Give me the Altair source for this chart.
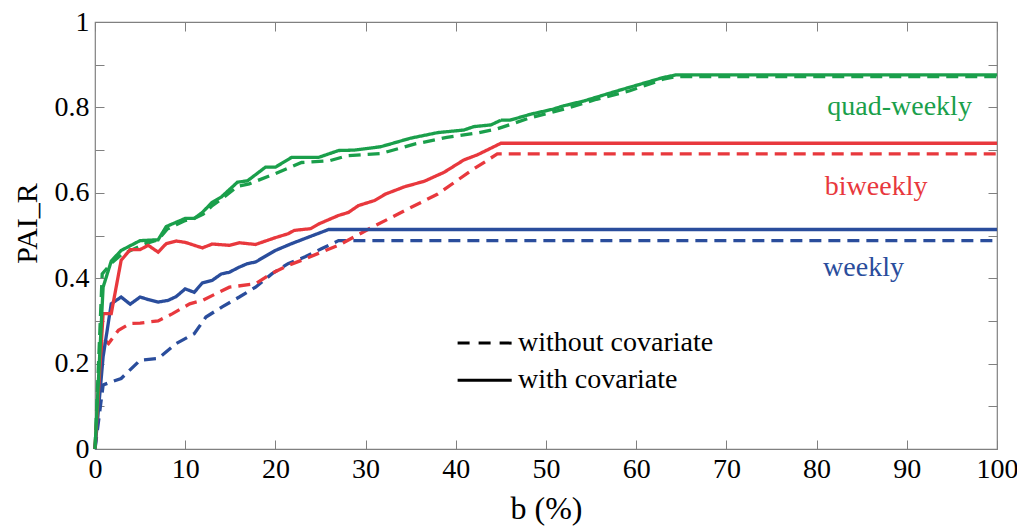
import altair as alt
import pandas as pd

# ---- data ----
gs_b = [0, 0.9, 1.8, 2.9, 5, 7, 7.9, 9, 10, 11, 11.9, 13, 14, 15.8, 16.9, 18.9, 20, 21.8, 24.8, 27, 28.8, 31.7, 35, 38, 40.9, 42, 43.9, 45, 46, 48.3, 50.8, 52, 54.2, 56.7, 58.6, 60.4, 63, 64.4, 100]
gs_v = [0, 0.379, 0.44, 0.465, 0.488, 0.49, 0.521, 0.531, 0.54, 0.54, 0.554, 0.578, 0.59, 0.625, 0.628, 0.66, 0.66, 0.683, 0.683, 0.699, 0.70, 0.708, 0.728, 0.741, 0.747, 0.755, 0.759, 0.770, 0.77, 0.784, 0.796, 0.804, 0.815, 0.831, 0.843, 0.854, 0.870, 0.876, 0.876]

gd_b = [0, 0.8, 1.8, 2.9, 5.5, 7, 8, 9, 10, 11, 12, 13, 14, 15.8, 17.1, 20, 22.9, 26, 28, 31.7, 35.4, 39, 42.6, 44.5, 48.3, 52, 55.6, 59.3, 63, 64.4, 100]
gd_v = [0, 0.41, 0.435, 0.455, 0.48, 0.49, 0.515, 0.525, 0.535, 0.54, 0.55, 0.57, 0.585, 0.615, 0.621, 0.645, 0.671, 0.675, 0.687, 0.692, 0.714, 0.73, 0.741, 0.749, 0.776, 0.796, 0.819, 0.839, 0.866, 0.872, 0.872]

rs_b = [0, 0.9, 1.8, 2.9, 3.9, 5, 5.9, 7, 7.9, 9, 10, 11.9, 13, 14.9, 16, 17.8, 20, 21.4, 22.1, 23.9, 24.8, 27, 28.1, 29.2, 31, 32.2, 34.3, 36.5, 38.7, 40.9, 42.4, 45, 100]
rs_v = [0, 0.317, 0.317, 0.442, 0.467, 0.467, 0.477, 0.461, 0.481, 0.487, 0.484, 0.471, 0.48, 0.477, 0.483, 0.479, 0.495, 0.504, 0.512, 0.516, 0.527, 0.547, 0.554, 0.57, 0.582, 0.597, 0.614, 0.627, 0.648, 0.677, 0.689, 0.716, 0.716]

rd_b = [0, 0.8, 1.5, 2.6, 3.9, 5, 7, 8.6, 10.5, 11.9, 14.9, 17.8, 19.5, 21.4, 22.9, 25.1, 27, 30.7, 34.3, 38, 41.7, 44.6, 100]
rd_v = [0, 0.26, 0.247, 0.278, 0.294, 0.295, 0.30, 0.317, 0.34, 0.348, 0.379, 0.387, 0.41, 0.43, 0.442, 0.461, 0.477, 0.519, 0.558, 0.597, 0.652, 0.691, 0.691]

bs_b = [0, 0.9, 1.8, 2.9, 3.9, 5, 5.9, 7, 8.1, 9, 10, 11, 11.9, 13, 14, 14.9, 16, 16.9, 17.8, 20, 21.8, 23.9, 25.9, 100]
bs_v = [0, 0.216, 0.34, 0.356, 0.339, 0.356, 0.35, 0.344, 0.348, 0.357, 0.375, 0.367, 0.389, 0.395, 0.41, 0.414, 0.426, 0.434, 0.438, 0.465, 0.481, 0.498, 0.514, 0.514]

bd_b = [0, 0.9, 1.8, 2.9, 5, 7, 9, 11, 12.3, 14.1, 16, 17.8, 19.6, 21.4, 23.3, 25.1, 27, 100]
bd_v = [0, 0.15, 0.157, 0.165, 0.208, 0.212, 0.247, 0.27, 0.309, 0.333, 0.356, 0.379, 0.41, 0.434, 0.45, 0.469, 0.488, 0.488]

series_names = ["weekly", "biweekly", "quad-weekly"]
series_colors = ["#2a4d9c", "#e8383d", "#1a9f4b"]

label_text = ["quad-weekly", "biweekly", "weekly"]
label_b = [89.2, 86.6, 85.2]
label_v = [0.800, 0.613, 0.423]

legend_text = ["without covariate", "with covariate"]
legend_kind = ["without", "with"]
legend_b = [40.2, 40.2]
legend_b2 = [46.2, 46.2]
legend_v = [0.248, 0.161]
legend_tb = [46.9, 46.9]

x_ticks = list(range(0, 101, 10))
y_labels = [0, 0.2, 0.4, 0.6, 0.8, 1.0]
y_ticks = [round(i * 0.1, 1) for i in range(11)]

# ---- build tables ----
rows = []
def add(bs, vs, series, kind, order):
    for i, (b, v) in enumerate(zip(bs, vs)):
        rows.append({"b": b, "v": v, "series": series, "kind": kind,
                     "key": f"{order}-{series}-{kind}", "i": i})

add(bd_b, bd_v, "weekly", "without", 0)
add(rd_b, rd_v, "biweekly", "without", 1)
add(gd_b, gd_v, "quad-weekly", "without", 2)
add(bs_b, bs_v, "weekly", "with", 3)
add(rs_b, rs_v, "biweekly", "with", 4)
add(gs_b, gs_v, "quad-weekly", "with", 5)
df = pd.DataFrame(rows)

lab_df = pd.DataFrame({"b": label_b, "v": label_v, "text": label_text})
leg_df = pd.DataFrame({"b": legend_b, "b2": legend_b2, "v": legend_v,
                       "tb": legend_tb, "text": legend_text, "kind": legend_kind})

FONT = "Liberation Serif"
xs = alt.Scale(domain=[0, 100], nice=False, zero=False)
ys = alt.Scale(domain=[0, 1], nice=False, zero=False)
dash_scale = alt.Scale(domain=["without", "with"], range=[[12, 7], [1, 0]])
color_scale = alt.Scale(domain=series_names, range=series_colors)

def tick_axis(orient, values):
    return alt.Axis(orient=orient, offset=-9, tickSize=9, values=values,
                    labels=False, domain=False, grid=False, title=None,
                    ticks=True, tickColor="#808080", tickWidth=1)

lines = alt.Chart(df).mark_line(strokeWidth=3.3).encode(
    x=alt.X("b:Q", scale=xs, axis=alt.Axis(
        orient="bottom", values=x_ticks, title="b (%)", ticks=False, domain=False,
        grid=False, labelFont=FONT, labelFontSize=28, labelColor="#000",
        labelPadding=6, labelFlush=False, labelBound=False,
        titleFont=FONT, titleFontSize=32, titleFontWeight="normal",
        titleColor="#000", titlePadding=10)),
    y=alt.Y("v:Q", scale=ys, axis=alt.Axis(
        orient="left", values=y_labels, format="~g", title="PAI_R", ticks=False,
        domain=False, grid=False, labelFont=FONT, labelFontSize=28, labelColor="#000",
        labelPadding=6, labelFlush=False, labelBound=False,
        titleFont=FONT, titleFontSize=30, titleFontWeight="normal",
        titleColor="#000", titlePadding=12, titleY=201)),
    color=alt.Color("series:N", scale=color_scale, legend=None),
    strokeDash=alt.StrokeDash("kind:N", scale=dash_scale, legend=None),
    detail="key:N",
    order="i:Q",
)

labels = alt.Chart(lab_df).mark_text(font=FONT, fontSize=28, baseline="middle",
                                     align="center").encode(
    x=alt.X("b:Q", scale=xs, axis=tick_axis("bottom", x_ticks)),
    y=alt.Y("v:Q", scale=ys, axis=tick_axis("left", y_ticks)),
    text="text:N",
    color=alt.Color("text:N", scale=color_scale, legend=None),
)

leg_lines = alt.Chart(leg_df).mark_rule(strokeWidth=3, color="#000").encode(
    x=alt.X("b:Q", scale=xs, axis=tick_axis("top", x_ticks)),
    x2="b2:Q",
    y=alt.Y("v:Q", scale=ys, axis=tick_axis("right", y_ticks)),
    strokeDash=alt.StrokeDash("kind:N", scale=alt.Scale(domain=["without", "with"], range=[[12, 9], [1, 0]]), legend=None),
)

leg_text = alt.Chart(leg_df).mark_text(font=FONT, fontSize=28, align="left",
                                       baseline="middle", color="#000").encode(
    x=alt.X("tb:Q", scale=xs, axis=None),
    y=alt.Y("v:Q", scale=ys, axis=None),
    text="text:N",
)

chart = alt.layer(lines, labels, leg_lines, leg_text).resolve_axis(
    x="independent", y="independent"
).resolve_scale(color="independent", strokeDash="independent").properties(
    width=902, height=427,
    autosize=alt.AutoSizeParams(type="none"),
    padding={"left": 87, "top": 14, "right": 20, "bottom": 80},
    background="white",
).configure_view(stroke="#808080", strokeWidth=1.2)

chart.save("out.html", embed_options={"renderer": "svg", "actions": False})
